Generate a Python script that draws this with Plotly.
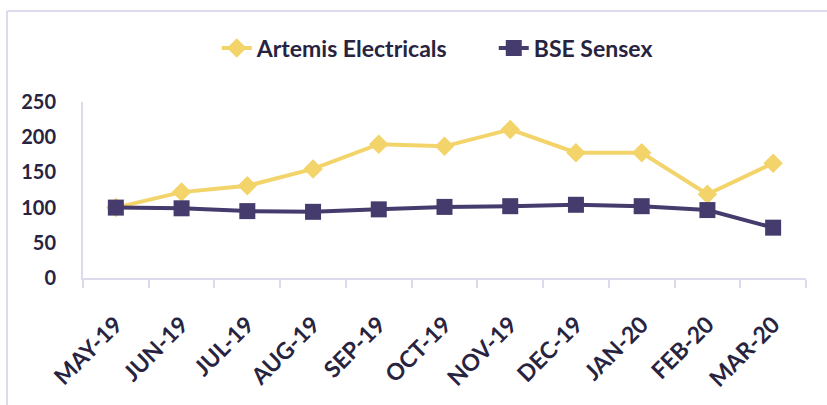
import plotly.graph_objects as go

months = ["MAY-19", "JUN-19", "JUL-19", "AUG-19", "SEP-19", "OCT-19",
          "NOV-19", "DEC-19", "JAN-20", "FEB-20", "MAR-20"]
artemis = [100, 122, 131, 155, 190, 187, 211, 178, 178, 119, 163]
sensex = [100, 99, 95, 94, 97.5, 101, 102, 104, 102, 96.5, 71.5]
y_ticks = [0, 50, 100, 150, 200, 250]

TEXT = "#28233f"
AXIS = "#dcdbee"
YELLOW = "#f3d46b"
PURPLE = "#463b6d"
FONT = "Lato"

fig = go.Figure()
fig.add_trace(go.Scatter(
    x=months, y=artemis, name="Artemis Electricals", mode="lines+markers",
    line=dict(color=YELLOW, width=4),
    marker=dict(symbol="diamond", size=15, color=YELLOW),
))
fig.add_trace(go.Scatter(
    x=months, y=sensex, name="BSE Sensex", mode="lines+markers",
    line=dict(color=PURPLE, width=4),
    marker=dict(symbol="square", size=16, color=PURPLE),
))

fig.update_layout(
    width=827, height=405,
    margin=dict(l=83, r=21, t=102, b=127, autoexpand=False),
    paper_bgcolor="white", plot_bgcolor="white",
    font=dict(family=FONT, color=TEXT, size=18, weight="bold"),
    showlegend=True,
    legend=dict(orientation="h", x=0.185, xanchor="left", y=1.307, yanchor="middle",
                font=dict(family=FONT, size=23, color=TEXT, weight="bold"),
                entrywidth=232, bgcolor="rgba(0,0,0,0)"),
    xaxis=dict(
        type="category", range=[-0.5, 10.5], showgrid=False, zeroline=False, automargin=False,
        showline=True, linecolor=AXIS, linewidth=2,
        ticks="outside", tickson="boundaries", ticklen=8, tickcolor=AXIS, tickwidth=2,
        tickangle=-45, ticklabelstandoff=22,
        tickfont=dict(family=FONT, size=23, color=TEXT, weight="bold"),
    ),
    yaxis=dict(
        range=[0, 250], tickvals=y_ticks, showgrid=False, zeroline=False, automargin=False,
        showline=True, linecolor=AXIS, linewidth=2, ticks="",
        ticklabelstandoff=21,
        tickfont=dict(family=FONT, size=20, color=TEXT, weight="bold"),
    ),
    shapes=[
        dict(type="line", xref="paper", yref="paper", x0=-0.1051, x1=-0.1051, y0=1.517, y1=-0.9,
             line=dict(color=AXIS, width=2)),
        dict(type="line", xref="paper", yref="paper", x0=-0.1051, x1=1.2, y0=1.517, y1=1.517,
             line=dict(color=AXIS, width=2)),
    ],
)

fig.write_html("out.html", config={"displayModeBar": False},
               post_script="document.body.style.margin='0';")
